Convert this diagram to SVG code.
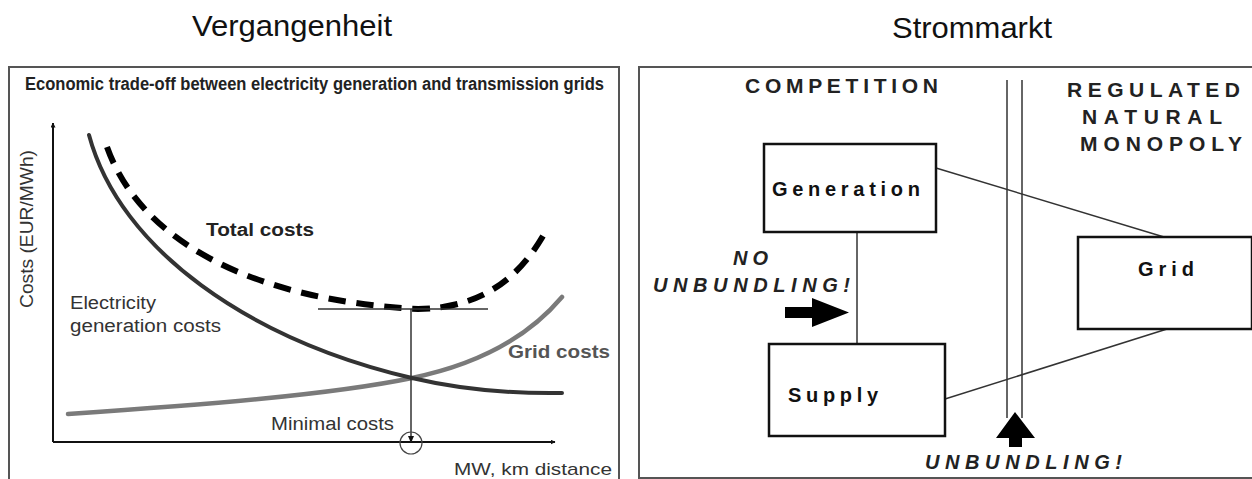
<svg xmlns="http://www.w3.org/2000/svg" width="1252" height="479" viewBox="0 0 1252 479">
<style>
text{font-family:"Liberation Sans",Arial,sans-serif}
.title{font-size:29px;fill:#111}
.frame{fill:none;stroke:#555;stroke-width:2}
.box{fill:#fff;stroke:#111;stroke-width:2.5}
.lbl{font-size:18px;fill:#333}
.bl{font-size:18px;font-weight:bold;fill:#222}
.caps{font-size:21px;font-weight:bold;fill:#222}
.node{font-size:20px;font-weight:bold;fill:#111}
.ital{font-size:20px;font-weight:bold;font-style:italic;fill:#222}
.thin{stroke:#333;stroke-width:1.5;fill:none}
.axis{stroke:#111;stroke-width:2;fill:none}
</style>
<defs>
<marker id="ah" viewBox="0 0 10 10" refX="9" refY="5" markerWidth="5" markerHeight="5" orient="auto" markerUnits="userSpaceOnUse">
<path d="M0,0 L10,5 L0,10 z" fill="#111"/>
</marker>
</defs>
<rect width="1252" height="479" fill="#fff"/>

<g id="left-panel">
<text class="title" x="292" y="36" text-anchor="middle" textLength="200" lengthAdjust="spacingAndGlyphs">Vergangenheit</text>
<rect class="frame" x="9" y="67" width="610" height="420"/>
<text x="25" y="90" font-size="18" font-weight="bold" fill="#222" textLength="579" lengthAdjust="spacingAndGlyphs">Economic trade-off between electricity generation and transmission grids</text>
</g>

<g id="axes">
<line class="axis" x1="53" y1="442" x2="53" y2="123" marker-end="url(#ah)"/>
<line class="axis" x1="53" y1="442" x2="555" y2="442" marker-end="url(#ah)"/>
<text class="lbl" transform="translate(33,229) rotate(-90)" text-anchor="middle" textLength="158" lengthAdjust="spacingAndGlyphs">Costs (EUR/MWh)</text>
<text x="454" y="475" font-size="17" fill="#333" textLength="158" lengthAdjust="spacingAndGlyphs">MW, km distance</text>
</g>

<g id="curves">
<path d="M68,414 C200,405 330,395 412,378 C480,364 530,335 562,297" fill="none" stroke="#7a7a7a" stroke-width="4.5" stroke-linecap="round"/>
<path d="M89,135 C120,250 250,340 412,378 C450,387 500,394 562,393" fill="none" stroke="#333" stroke-width="4" stroke-linecap="round"/>
<path d="M107,147 C140,240 250,300 418,309 C485,308 520,275 543,236" pathLength="540" fill="none" stroke="#000" stroke-width="6" stroke-dasharray="18,11"/>
<line class="thin" x1="318" y1="309" x2="488" y2="309"/>
<line class="thin" x1="411" y1="309" x2="411" y2="442"/>
<path d="M408,436 L411,443 L414,436 z" fill="#111"/>
<circle cx="411" cy="443" r="11" fill="none" stroke="#444" stroke-width="1.2"/>
</g>

<g id="chart-labels">
<text class="bl" x="206" y="236" textLength="108" lengthAdjust="spacingAndGlyphs">Total costs</text>
<text class="lbl" x="70" y="309" fill="#444" textLength="86" lengthAdjust="spacingAndGlyphs">Electricity</text>
<text class="lbl" x="70" y="332" fill="#444" textLength="151" lengthAdjust="spacingAndGlyphs">generation costs</text>
<text x="508" y="358" font-size="18" font-weight="bold" fill="#555" textLength="102" lengthAdjust="spacingAndGlyphs">Grid costs</text>
<text class="lbl" x="271" y="430" textLength="123" lengthAdjust="spacingAndGlyphs">Minimal costs</text>
</g>

<g id="right-panel">
<text class="title" x="972" y="38" text-anchor="middle" textLength="160" lengthAdjust="spacingAndGlyphs">Strommarkt</text>
<rect class="frame" x="639" y="67" width="620" height="411"/>
<text class="caps" x="745" y="93" textLength="193" lengthAdjust="spacing">COMPETITION</text>
<text class="caps" x="1067" y="97" textLength="173" lengthAdjust="spacing">REGULATED</text>
<text class="caps" x="1082" y="124" textLength="140" lengthAdjust="spacing">NATURAL</text>
<text class="caps" x="1080" y="151" textLength="162" lengthAdjust="spacing">MONOPOLY</text>
<line x1="1007" y1="80" x2="1007" y2="418" stroke="#666" stroke-width="2"/>
<line x1="1022" y1="80" x2="1022" y2="418" stroke="#666" stroke-width="2"/>
</g>

<g id="connectors">
<line class="thin" x1="857" y1="232" x2="857" y2="344"/>
<line class="thin" x1="936" y1="168" x2="1164" y2="237"/>
<line class="thin" x1="945" y1="399" x2="1167" y2="329"/>
</g>

<g id="generation">
<rect class="box" x="764" y="144" width="172" height="88"/>
<text class="node" x="772" y="196" textLength="148" lengthAdjust="spacing">Generation</text>
</g>
<g id="supply">
<rect class="box" x="769" y="344" width="176" height="92"/>
<text class="node" x="788" y="402" textLength="90" lengthAdjust="spacing">Supply</text>
</g>
<g id="grid">
<rect class="box" x="1078" y="237" width="174" height="92"/>
<text class="node" x="1138" y="276" textLength="56" lengthAdjust="spacing">Grid</text>
</g>

<g id="no-unbundling">
<text class="ital" x="733" y="265" textLength="35" lengthAdjust="spacing">NO</text>
<text class="ital" x="653" y="292" textLength="197" lengthAdjust="spacing">UNBUNDLING!</text>
<path d="M785,307 L812,307 L812,298 L849,312.5 L812,327 L812,318 L785,318 z" fill="#000"/>
</g>

<g id="unbundling">
<path d="M1015,412 L1035,438 L1022,438 L1022,447 L1009,447 L1009,438 L996,438 z" fill="#000"/>
<text class="ital" x="925" y="469" fill="#555" textLength="197" lengthAdjust="spacing">UNBUNDLING!</text>
</g>
</svg>
